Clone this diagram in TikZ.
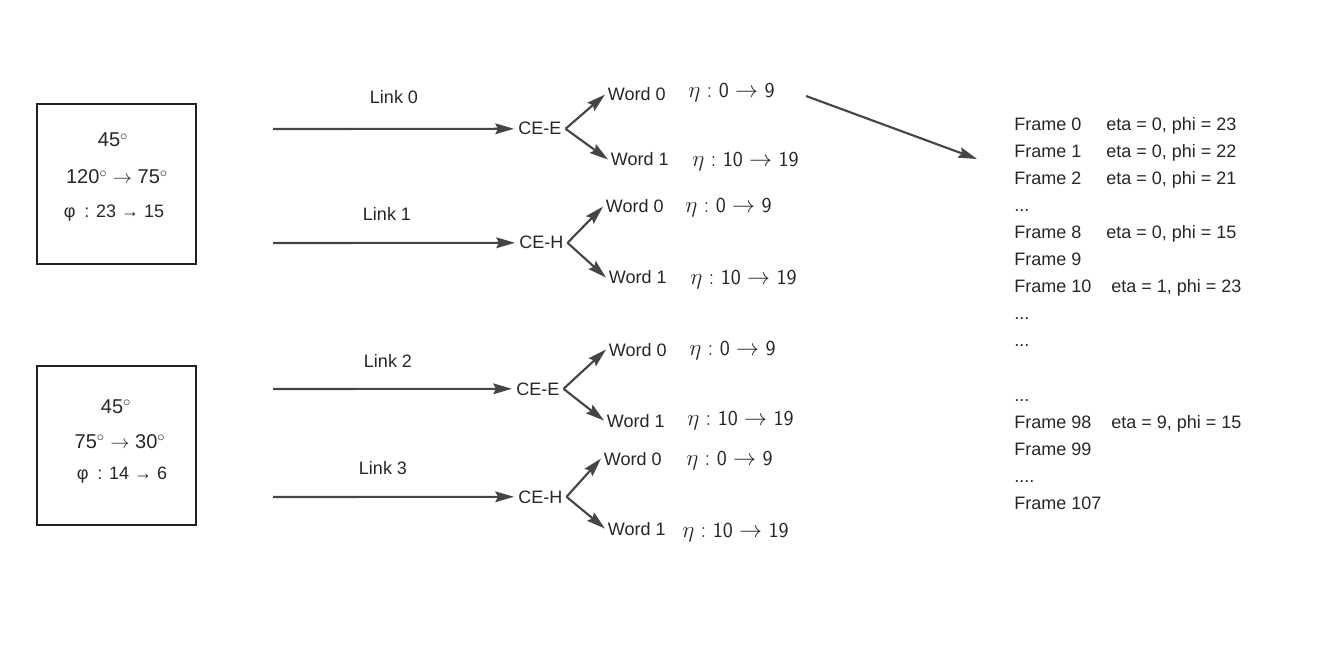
\documentclass[tikz,border=0pt]{standalone}
\usepackage{fontspec}
\setmainfont{Liberation Sans}
\usetikzlibrary{arrows.meta}
\definecolor{linegray}{HTML}{454545}
\definecolor{boxedge}{HTML}{231F20}
\definecolor{txtgray}{HTML}{262626}
\begin{document}
\begin{tikzpicture}[x=0.75pt,y=-0.75pt,
  font=\fontsize{13.5}{16}\selectfont,
  lbl/.style={inner sep=0pt, anchor=base west, text=txtgray},
  mid/.style={inner sep=0pt, anchor=base, text=txtgray},
  cebox/.style={inner xsep=3pt, inner ysep=0pt, anchor=base west, text=txtgray},
  wordbox/.style={inner xsep=2pt, inner ysep=0pt, anchor=base west, text=txtgray},
  etabox/.style={inner sep=0pt, anchor=base west, text=txtgray, font=\fontsize{16}{18}\selectfont},
  flow/.style={draw=linegray, line width=1.6pt, -{Stealth[length=14pt,width=8pt,inset=2pt]}},
  anglebox/.style={draw=boxedge, line width=1.9pt}]
\useasboundingbox (0,0) rectangle (1341,648);

% the two angle boxes
\draw[anglebox] (37,104) rectangle (196,264);
\draw[anglebox] (37,366) rectangle (196,525);
\node[mid, font=\fontsize{15}{18}\selectfont] (a0) at (113,147) {45$^\circ$};
\node[mid, font=\fontsize{15}{18}\selectfont] (a1) at (117,184) {120$^\circ$ $\rightarrow$ 75$^\circ$};
\node[mid] (p0) at (114,218) {φ\enspace: 23 → 15};
\node[mid, font=\fontsize{15}{18}\selectfont] (a2) at (116,413) {45$^\circ$};
\node[mid, font=\fontsize{15}{18}\selectfont] (a3) at (120,448) {75$^\circ$ $\rightarrow$ 30$^\circ$};
\node[mid] (p1) at (122,479) {φ\enspace: 14 → 6};

% links
\coordinate (s0) at (273,129);
\coordinate (s1) at (273,243);
\coordinate (s2) at (273,389);
\coordinate (s3) at (273,497);
\node[mid] (l0) at (394,104) {Link 0};
\node[mid] (l1) at (387,221) {Link 1};
\node[mid] (l2) at (388,367) {Link 2};
\node[mid] (l3) at (383,474) {Link 3};
\node[cebox] (ce0) at (514,135) {CE-E};
\node[cebox] (ce1) at (515,249) {CE-H};
\node[cebox] (ce2) at (512,395) {CE-E};
\node[cebox] (ce3) at (514,503) {CE-H};
\draw[flow] (s0) -- (ce0.west);
\draw[flow] (s1) -- (ce1.west);
\draw[flow] (s2) -- (ce2.west);
\draw[flow] (s3) -- (ce3.west);

% words
\node[wordbox] (w00) at (605,101) {Word 0};
\node[wordbox] (w01) at (608,166) {Word 1};
\node[wordbox] (w10) at (603,213) {Word 0};
\node[wordbox] (w11) at (606,284) {Word 1};
\node[wordbox] (w20) at (606,356) {Word 0};
\node[wordbox] (w21) at (604,427) {Word 1};
\node[wordbox] (w30) at (601,465) {Word 0};
\node[wordbox] (w31) at (605,535) {Word 1};
\draw[flow] (ce0.east) -- (w00.west);
\draw[flow] (ce0.east) -- (w01.west);
\draw[flow] (ce1.east) -- (w10.west);
\draw[flow] (ce1.east) -- (w11.west);
\draw[flow] (ce2.east) -- (w20.west);
\draw[flow] (ce2.east) -- (w21.west);
\draw[flow] (ce3.east) -- (w30.west);
\draw[flow] (ce3.east) -- (w31.west);

\node[etabox] (e00) at (688,98) {$\eta:\mathsf{0}\rightarrow\mathsf{9}$};
\node[etabox] (e01) at (692,167) {$\eta:\mathsf{10}\rightarrow\mathsf{19}$};
\node[etabox] (e10) at (685,213) {$\eta:\mathsf{0}\rightarrow\mathsf{9}$};
\node[etabox] (e11) at (690,285) {$\eta:\mathsf{10}\rightarrow\mathsf{19}$};
\node[etabox] (e20) at (689,355) {$\eta:\mathsf{0}\rightarrow\mathsf{9}$};
\node[etabox] (e21) at (687,425) {$\eta:\mathsf{10}\rightarrow\mathsf{19}$};
\node[etabox] (e30) at (686,465) {$\eta:\mathsf{0}\rightarrow\mathsf{9}$};
\node[etabox] (e31) at (682,537) {$\eta:\mathsf{10}\rightarrow\mathsf{19}$};

% frame list
\coordinate (tail) at (806,96);
\coordinate (head) at (977,159);
\draw[flow] (tail) -- (head);
\node[lbl] (f0) at (1014,131) {Frame 0};
\node[lbl] (v0) at (1106,131) {eta = 0, phi = 23};
\node[lbl] (f1) at (1014,158) {Frame 1};
\node[lbl] (v1) at (1106,158) {eta = 0, phi = 22};
\node[lbl] (f2) at (1014,185) {Frame 2};
\node[lbl] (v2) at (1106,185) {eta = 0, phi = 21};
\node[lbl] (d0) at (1014,212) {...};
\node[lbl] (f8) at (1014,239) {Frame 8};
\node[lbl] (v8) at (1106,239) {eta = 0, phi = 15};
\node[lbl] (f9) at (1014,266) {Frame 9};
\node[lbl] (f10) at (1014,293) {Frame 10};
\node[lbl] (v10) at (1111,293) {eta = 1, phi = 23};
\node[lbl] (d1) at (1014,320) {...};
\node[lbl] (d2) at (1014,347) {...};
\node[lbl] (d3) at (1014,401) {...};
\node[lbl] (f98) at (1014,428) {Frame 98};
\node[lbl] (v98) at (1111,428) {eta = 9, phi = 15};
\node[lbl] (f99) at (1014,455) {Frame 99};
\node[lbl] (d4) at (1014,482) {....};
\node[lbl] (f107) at (1014,509) {Frame 107};
\end{tikzpicture}
\end{document}
